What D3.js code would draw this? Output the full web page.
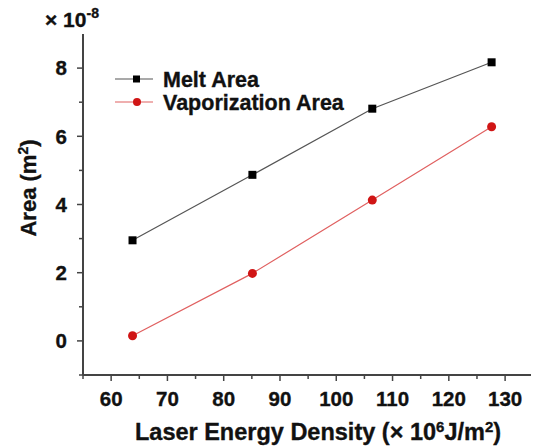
<!DOCTYPE html>
<html>
<head>
<meta charset="utf-8">
<script src="https://cdn.jsdelivr.net/npm/d3@7"></script>
<style>
  body { margin: 0; background: #fff; }
  text { font-family: "Liberation Sans", Arial, sans-serif; font-weight: bold; fill: #111; stroke: #111; stroke-width: 0.35px; }
</style>
</head>
<body>
<div id="chart"></div>
<script>
// laser energy density (x 10^6 J/m^2)
const energy = [63.8, 85.1, 106.4, 127.6];
// areas (x 10^-8 m^2)
const meltArea = [2.95, 4.87, 6.81, 8.17];
const vaporArea = [0.15, 1.98, 4.13, 6.28];
const xTicks = [60, 70, 80, 90, 100, 110, 120, 130];
const yTicks = [0, 2, 4, 6, 8];

const width = 533, height = 446;
const margin = {top: 34, right: 2, bottom: 71, left: 83};

const svg = d3.select("#chart").append("svg")
    .attr("width", width)
    .attr("height", height);

const x = d3.scaleLinear()
    .domain([55, 134.6])
    .range([margin.left, width - margin.right]);

const y = d3.scaleLinear()
    .domain([-1, 9])
    .range([height - margin.bottom, margin.top]);

const axisColor = "#444";

// x axis with minor ticks
const xAxis = svg.append("g")
    .attr("transform", "translate(0," + y(-1) + ")");
xAxis.append("line")
    .attr("x1", x(55)).attr("x2", x(134.6))
    .attr("stroke", axisColor).attr("stroke-width", 2);
xAxis.selectAll(".minor")
    .data(d3.range(55, 135, 5).filter(v => v % 10 !== 0))
    .enter().append("line")
    .attr("x1", d => x(d)).attr("x2", d => x(d))
    .attr("y1", 0).attr("y2", 4)
    .attr("stroke", axisColor).attr("stroke-width", 1.5);
xAxis.selectAll(".major")
    .data(xTicks)
    .enter().append("line")
    .attr("x1", d => x(d)).attr("x2", d => x(d))
    .attr("y1", 0).attr("y2", 6)
    .attr("stroke", axisColor).attr("stroke-width", 1.5);
xAxis.selectAll(".lab")
    .data(xTicks)
    .enter().append("text")
    .attr("x", d => x(d))
    .attr("y", 31)
    .attr("text-anchor", "middle")
    .style("font-size", "20.5px")
    .text(d => d);

// y axis with minor ticks
const yAxis = svg.append("g")
    .attr("transform", "translate(" + x(55) + ",0)");
yAxis.append("line")
    .attr("y1", y(-1)).attr("y2", y(9))
    .attr("stroke", axisColor).attr("stroke-width", 2);
yAxis.selectAll(".minor")
    .data([-1, 1, 3, 5, 7])
    .enter().append("line")
    .attr("y1", d => y(d)).attr("y2", d => y(d))
    .attr("x1", 0).attr("x2", -4)
    .attr("stroke", axisColor).attr("stroke-width", 1.5);
yAxis.selectAll(".major")
    .data(yTicks)
    .enter().append("line")
    .attr("y1", d => y(d)).attr("y2", d => y(d))
    .attr("x1", 0).attr("x2", -6)
    .attr("stroke", axisColor).attr("stroke-width", 1.5);
yAxis.selectAll(".lab")
    .data(yTicks)
    .enter().append("text")
    .attr("x", -16)
    .attr("y", d => y(d))
    .attr("dy", "0.36em")
    .attr("text-anchor", "end")
    .style("font-size", "20.5px")
    .text(d => d);

// scale factor
const mult = svg.append("text")
    .attr("x", 45).attr("y", 27)
    .style("font-size", "21px");
mult.append("tspan").text("× 10");
mult.append("tspan").attr("dy", -9).style("font-size", "14px").text("-8");

// axis titles
const xt = svg.append("text")
    .attr("x", 318).attr("y", 440)
    .attr("text-anchor", "middle")
    .style("font-size", "23.5px");
xt.append("tspan").text("Laser Energy Density (× 10");
xt.append("tspan").attr("dy", -8).style("font-size", "15px").text("6");
xt.append("tspan").attr("dy", 8).text("J/m");
xt.append("tspan").attr("dy", -8).style("font-size", "15px").text("2");
xt.append("tspan").attr("dy", 8).text(")");

const yt = svg.append("text")
    .attr("transform", "translate(36,188) rotate(-90)")
    .attr("text-anchor", "middle")
    .style("font-size", "22px");
yt.append("tspan").text("Area (m");
yt.append("tspan").attr("dy", -8).style("font-size", "14px").text("2");
yt.append("tspan").attr("dy", 8).text(")");

// series
const series = [
  {name: "Melt Area", values: meltArea, line: "#555", mark: "#000", shape: "square"},
  {name: "Vaporization Area", values: vaporArea, line: "#e06060", mark: "#d01515", shape: "circle"}
];

const lineGen = d3.line()
    .x(d => x(d[0]))
    .y(d => y(d[1]));

series.forEach(s => {
  const pts = energy.map((e, i) => [e, s.values[i]]);
  svg.append("path")
      .datum(pts)
      .attr("d", lineGen)
      .attr("fill", "none")
      .attr("stroke", s.line)
      .attr("stroke-width", 1.2);
  if (s.shape === "square") {
    svg.selectAll(null).data(pts).enter().append("rect")
        .attr("x", d => x(d[0]) - 4)
        .attr("y", d => y(d[1]) - 4)
        .attr("width", 8).attr("height", 8)
        .attr("fill", s.mark);
  } else {
    svg.selectAll(null).data(pts).enter().append("circle")
        .attr("cx", d => x(d[0]))
        .attr("cy", d => y(d[1]))
        .attr("r", 4.5)
        .attr("fill", s.mark);
  }
});

// legend
const legend = svg.append("g").attr("transform", "translate(115,79)");
series.forEach((s, i) => {
  const g = legend.append("g").attr("transform", "translate(0," + i * 23 + ")");
  g.append("line").attr("x1", 0).attr("x2", 38)
      .attr("stroke", s.line).attr("stroke-width", 1.2);
  if (s.shape === "square") {
    g.append("rect").attr("x", 18).attr("y", -3.5).attr("width", 7).attr("height", 7).attr("fill", s.mark);
  } else {
    g.append("circle").attr("cx", 22).attr("r", 4).attr("fill", s.mark);
  }
  g.append("text").attr("x", 48).attr("dy", "0.36em")
      .style("font-size", "21.5px").text(s.name);
});
</script>
</body>
</html>
